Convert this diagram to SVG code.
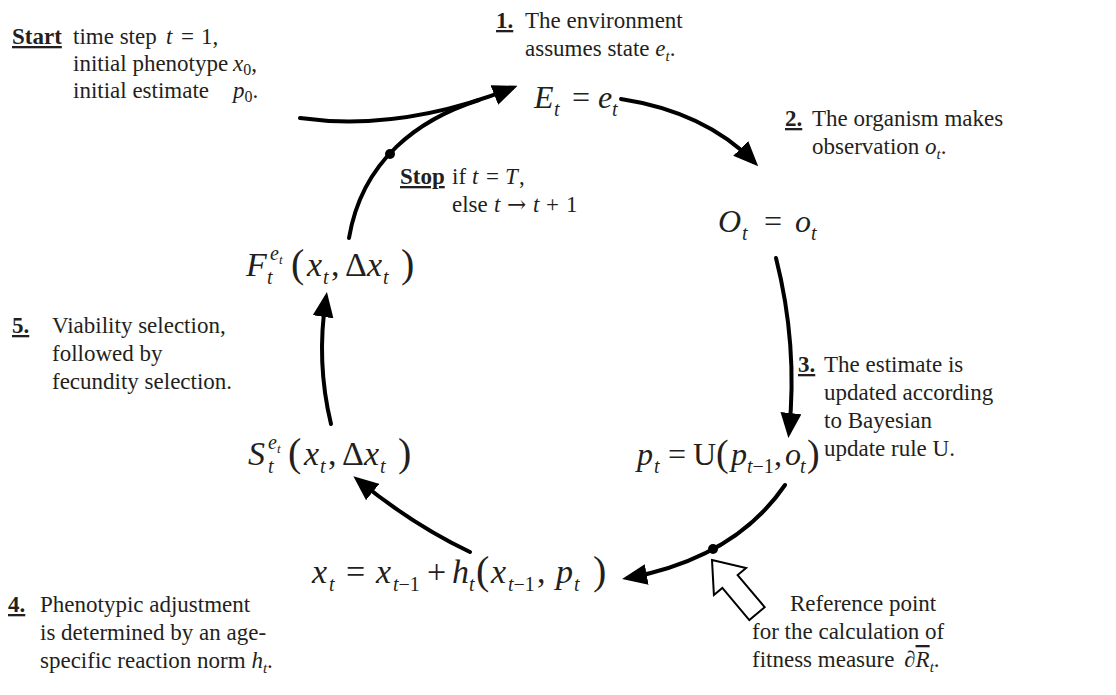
<svg xmlns="http://www.w3.org/2000/svg" width="1116" height="695" viewBox="0 0 1116 695">
<defs>
<style>
text{font-family:"Liberation Serif","Times New Roman",serif;fill:#231f20}
.l{font-size:23px}
.b{font-weight:bold;text-decoration:underline}
.m{font-size:32px}
.mx{font-size:34px}
.i{font-style:italic}
.s{font-size:20px;font-style:italic}
.s2{font-size:20px}
.ss{font-size:13px;font-style:italic}
.ls{font-size:15px;font-style:italic}
.p{font-size:40px}
.ar{font-family:"DejaVu Serif",serif}
.c{fill:none;stroke:#000;stroke-width:4;stroke-linecap:round}
</style>
<marker id="ah" markerUnits="userSpaceOnUse" markerWidth="25" markerHeight="21" viewBox="0 0 25 21" refX="19" refY="10.5" orient="auto">
<path d="M0,0 L25,10.5 L0,21 Z" fill="#000"/>
</marker>
</defs>
<rect width="1116" height="695" fill="#fff"/>

<g id="connectors">
<path class="c" d="M300,118 Q400,132 512,88" marker-end="url(#ah)"/>
<path class="c" d="M349,238 C362,160 419,119 479,100"/>
<circle cx="390" cy="154" r="5" fill="#000"/>
<path class="c" d="M621,99 Q705,112 754,162" marker-end="url(#ah)"/>
<path class="c" d="M776,258 Q798,345 789,432" marker-end="url(#ah)"/>
<path class="c" d="M785,485 Q735,558 628,578" marker-end="url(#ah)"/>
<circle cx="713" cy="549" r="5" fill="#000"/>
<path class="c" d="M470,552 Q413,525 358,480" marker-end="url(#ah)"/>
<path class="c" d="M331,424 Q316,362 326,298" marker-end="url(#ah)"/>
<polygon points="0,0 21,28 10,28 10,70 -10,70 -10,28 -21,28" transform="translate(712,560) rotate(-40)" fill="#fff" stroke="#000" stroke-width="2"/>
</g>

<g id="start">
<text class="l" x="12" y="44"><tspan class="b">Start</tspan><tspan x="73">time step</tspan><tspan class="i" x="166">t</tspan><tspan x="181">=</tspan><tspan x="201">1,</tspan></text>
<text class="l" x="73" y="71">initial phenotype<tspan x="233" class="i">x</tspan><tspan font-size="16" dy="4">0</tspan><tspan dy="-4">,</tspan></text>
<text class="l" x="73" y="98">initial estimate<tspan x="233" class="i">p</tspan><tspan font-size="16" dy="4">0</tspan><tspan dy="-4">.</tspan></text>
</g>

<g id="stop">
<text class="l" x="400" y="184"><tspan class="b">Stop</tspan><tspan x="452">if</tspan><tspan class="i" x="472">t</tspan><tspan x="486">=</tspan><tspan class="i" x="505">T</tspan><tspan x="519">,</tspan></text>
<text class="l" x="452" y="212">else<tspan class="i" x="494">t</tspan><tspan class="ar" x="507">→</tspan><tspan class="i" x="533">t</tspan><tspan x="546">+</tspan><tspan x="566">1</tspan></text>
</g>

<g id="step1">
<text class="l" x="496" y="28"><tspan class="b">1.</tspan><tspan x="525">The environment</tspan></text>
<text class="l" x="525" y="56">assumes state <tspan class="i">e</tspan><tspan class="ls" dy="5">t</tspan><tspan dy="-5">.</tspan></text>
</g>

<g id="node-E">
<text class="m" y="108"><tspan class="i" x="534">E</tspan><tspan class="s" x="554" dy="8">t</tspan><tspan x="572" dy="-8">=</tspan><tspan class="i" x="598">e</tspan><tspan class="s" x="612" dy="8">t</tspan></text>
</g>

<g id="step2">
<text class="l" x="785" y="126"><tspan class="b">2.</tspan><tspan x="812">The organism makes</tspan></text>
<text class="l" x="812" y="154">observation <tspan class="i">o</tspan><tspan class="ls" dy="5">t</tspan><tspan dy="-5">.</tspan></text>
</g>

<g id="node-O">
<text class="m" y="232"><tspan class="i" x="718">O</tspan><tspan class="s" x="742" dy="8">t</tspan><tspan x="764" dy="-8">=</tspan><tspan class="i" x="795">o</tspan><tspan class="s" x="811" dy="8">t</tspan></text>
</g>

<g id="step3">
<text class="l" x="798" y="372"><tspan class="b">3.</tspan><tspan x="824">The estimate is</tspan></text>
<text class="l" x="824" y="400">updated according</text>
<text class="l" x="824" y="428">to Bayesian</text>
<text class="l" x="824" y="456">update rule U.</text>
</g>

<g id="node-p">
<text class="m" y="465"><tspan class="i" x="637">p</tspan><tspan class="s" x="654" dy="8">t</tspan><tspan x="668" dy="-8">=</tspan><tspan x="693">U</tspan><tspan font-size="38" x="716" dy="1">(</tspan><tspan class="i" x="731" dy="-1">p</tspan><tspan class="s" x="747" dy="8">t</tspan><tspan class="s2">−1</tspan><tspan x="774" dy="-8">,</tspan><tspan class="i" x="785">o</tspan><tspan class="s" x="800" dy="8">t</tspan><tspan font-size="38" x="807" dy="-7">)</tspan></text>
</g>

<g id="node-x">
<text class="mx" y="583"><tspan class="i" x="312">x</tspan><tspan class="s" x="329" dy="8">t</tspan><tspan x="346" dy="-8">=</tspan><tspan class="i" x="376">x</tspan><tspan class="s" x="393" dy="8">t</tspan><tspan class="s2">−1</tspan><tspan x="427" dy="-8">+</tspan><tspan class="i" x="452">h</tspan><tspan class="s" x="469" dy="8">t</tspan><tspan class="p" x="476" dy="-7">(</tspan><tspan class="i" x="491" dy="-1">x</tspan><tspan class="s" x="508" dy="8">t</tspan><tspan class="s2">−1</tspan><tspan x="537" dy="-8">,</tspan><tspan class="i" x="556">p</tspan><tspan class="s" x="574" dy="8">t</tspan><tspan class="p" x="593" dy="-7">)</tspan></text>
</g>

<g id="step4">
<text class="l" x="8" y="612"><tspan class="b">4.</tspan><tspan x="40">Phenotypic adjustment</tspan></text>
<text class="l" x="40" y="640">is determined by an age-</text>
<text class="l" x="40" y="668">specific reaction norm <tspan class="i">h</tspan><tspan class="ls" dy="5">t</tspan><tspan dy="-5">.</tspan></text>
</g>

<g id="node-S">
<text class="mx" x="248" y="465"><tspan class="i">S</tspan></text>
<text x="268" y="449"><tspan class="s">e</tspan><tspan class="ss" dy="4">t</tspan></text>
<text class="s" x="268" y="473">t</text>
<text class="mx" y="465"><tspan class="p" x="288" dy="1">(</tspan><tspan class="i" x="304" dy="-1">x</tspan><tspan class="s" x="320" dy="8">t</tspan><tspan x="328" dy="-8">,</tspan><tspan x="342">Δ</tspan><tspan class="i" x="364">x</tspan><tspan class="s" x="380" dy="8">t</tspan><tspan class="p" x="398" dy="-7">)</tspan></text>
</g>

<g id="node-F">
<text class="mx" x="246" y="276"><tspan class="i">F</tspan></text>
<text x="270" y="260"><tspan class="s">e</tspan><tspan class="ss" dy="4">t</tspan></text>
<text class="s" x="267" y="284">t</text>
<text class="mx" y="276"><tspan class="p" x="291" dy="1">(</tspan><tspan class="i" x="307" dy="-1">x</tspan><tspan class="s" x="323" dy="8">t</tspan><tspan x="331" dy="-8">,</tspan><tspan x="345">Δ</tspan><tspan class="i" x="367">x</tspan><tspan class="s" x="383" dy="8">t</tspan><tspan class="p" x="401" dy="-7">)</tspan></text>
</g>

<g id="step5">
<text class="l" x="12" y="333"><tspan class="b">5.</tspan><tspan x="52">Viability selection,</tspan></text>
<text class="l" x="52" y="361">followed by</text>
<text class="l" x="52" y="389">fecundity selection.</text>
</g>

<g id="reference">
<text class="l" x="790" y="611">Reference point</text>
<text class="l" x="752" y="639">for the calculation of</text>
<text class="l" x="752" y="667">fitness measure <tspan dx="4">∂</tspan><tspan class="i" text-decoration="overline">R</tspan><tspan class="ls" dy="5">t</tspan><tspan dy="-5">.</tspan></text>
</g>
</svg>
